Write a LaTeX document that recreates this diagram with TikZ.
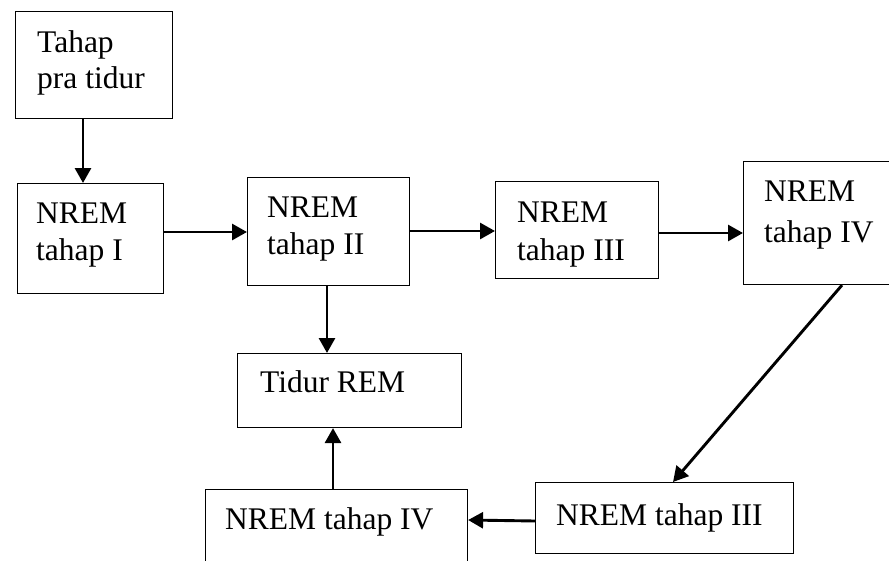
\documentclass[tikz,border=0pt]{standalone}
\usepackage{fontspec}
\setmainfont{Liberation Serif}
\usetikzlibrary{arrows.meta,calc}
\begin{document}
\begin{tikzpicture}[x=1pt,y=-1pt,
  box/.style={draw,line width=1.1pt,inner sep=0pt,anchor=north west},
  txt/.style={anchor=base west,inner sep=0pt,font=\fontsize{31.5}{36}\selectfont},
  arr/.style={line width=2.9pt,-{Triangle[length=15pt,width=16pt]}}]
\useasboundingbox (0,0) rectangle (889,560);
% boxes
\node[box,minimum width=157pt,minimum height=107pt] (b1) at (15,11) {};
\node[box,minimum width=146pt,minimum height=110pt] (b2) at (17,183) {};
\node[box,minimum width=162pt,minimum height=108pt] (b3) at (247,177) {};
\node[box,minimum width=163pt,minimum height=97pt] (b4) at (495,181) {};
\node[box,minimum width=150pt,minimum height=123pt] (b5) at (743,161) {};
\node[box,minimum width=224pt,minimum height=74pt] (b6) at (237,353) {};
\node[box,minimum width=262pt,minimum height=75pt] (b7) at (205,489) {};
\node[box,minimum width=258pt,minimum height=71pt] (b8) at (535,482) {};
% texts
\node[txt] (t1a) at (37,52) {Tahap};
\node[txt] (t1b) at (37,88) {pra tidur};
\node[txt] (t2a) at (36,223) {NREM};
\node[txt] (t2b) at (36,260) {tahap I};
\node[txt] (t3a) at (267,217) {NREM};
\node[txt] (t3b) at (267,254) {tahap II};
\node[txt] (t4a) at (517,222) {NREM};
\node[txt] (t4b) at (517,260) {tahap III};
\node[txt] (t5a) at (764,201) {NREM};
\node[txt] (t5b) at (764,242) {tahap IV};
\node[txt] (t6) at (260,392) {Tidur REM};
\node[txt] (t7) at (225,529) {NREM tahap IV};
\node[txt] (t8) at (556,525) {NREM tahap III};
% arrows
\draw[arr] ($(b1.south west)+(68,0)$) coordinate (s1) -- (s1 |- b2.north);
\draw[arr] ($(b2.north east)+(0,49)$) coordinate (s2) -- (s2 -| b3.west);
\draw[arr] ($(b3.north east)+(0,54)$) coordinate (s3) -- (s3 -| b4.west);
\draw[arr] ($(b4.north east)+(0,52)$) coordinate (s4) -- (s4 -| b5.west);
\draw[arr] ($(b5.south west)+(99,0)$) -- ($(b8.north west)+(138,0)$);
\draw[arr] ($(b8.north west)+(0,39)$) -- ($(b7.north east)+(0,31)$);
\draw[arr] ($(b3.south west)+(80,0)$) coordinate (s5) -- (s5 |- b6.north);
\draw[arr] ($(b7.north west)+(128,0)$) coordinate (s6) -- (s6 |- b6.south);
\end{tikzpicture}
\end{document}
